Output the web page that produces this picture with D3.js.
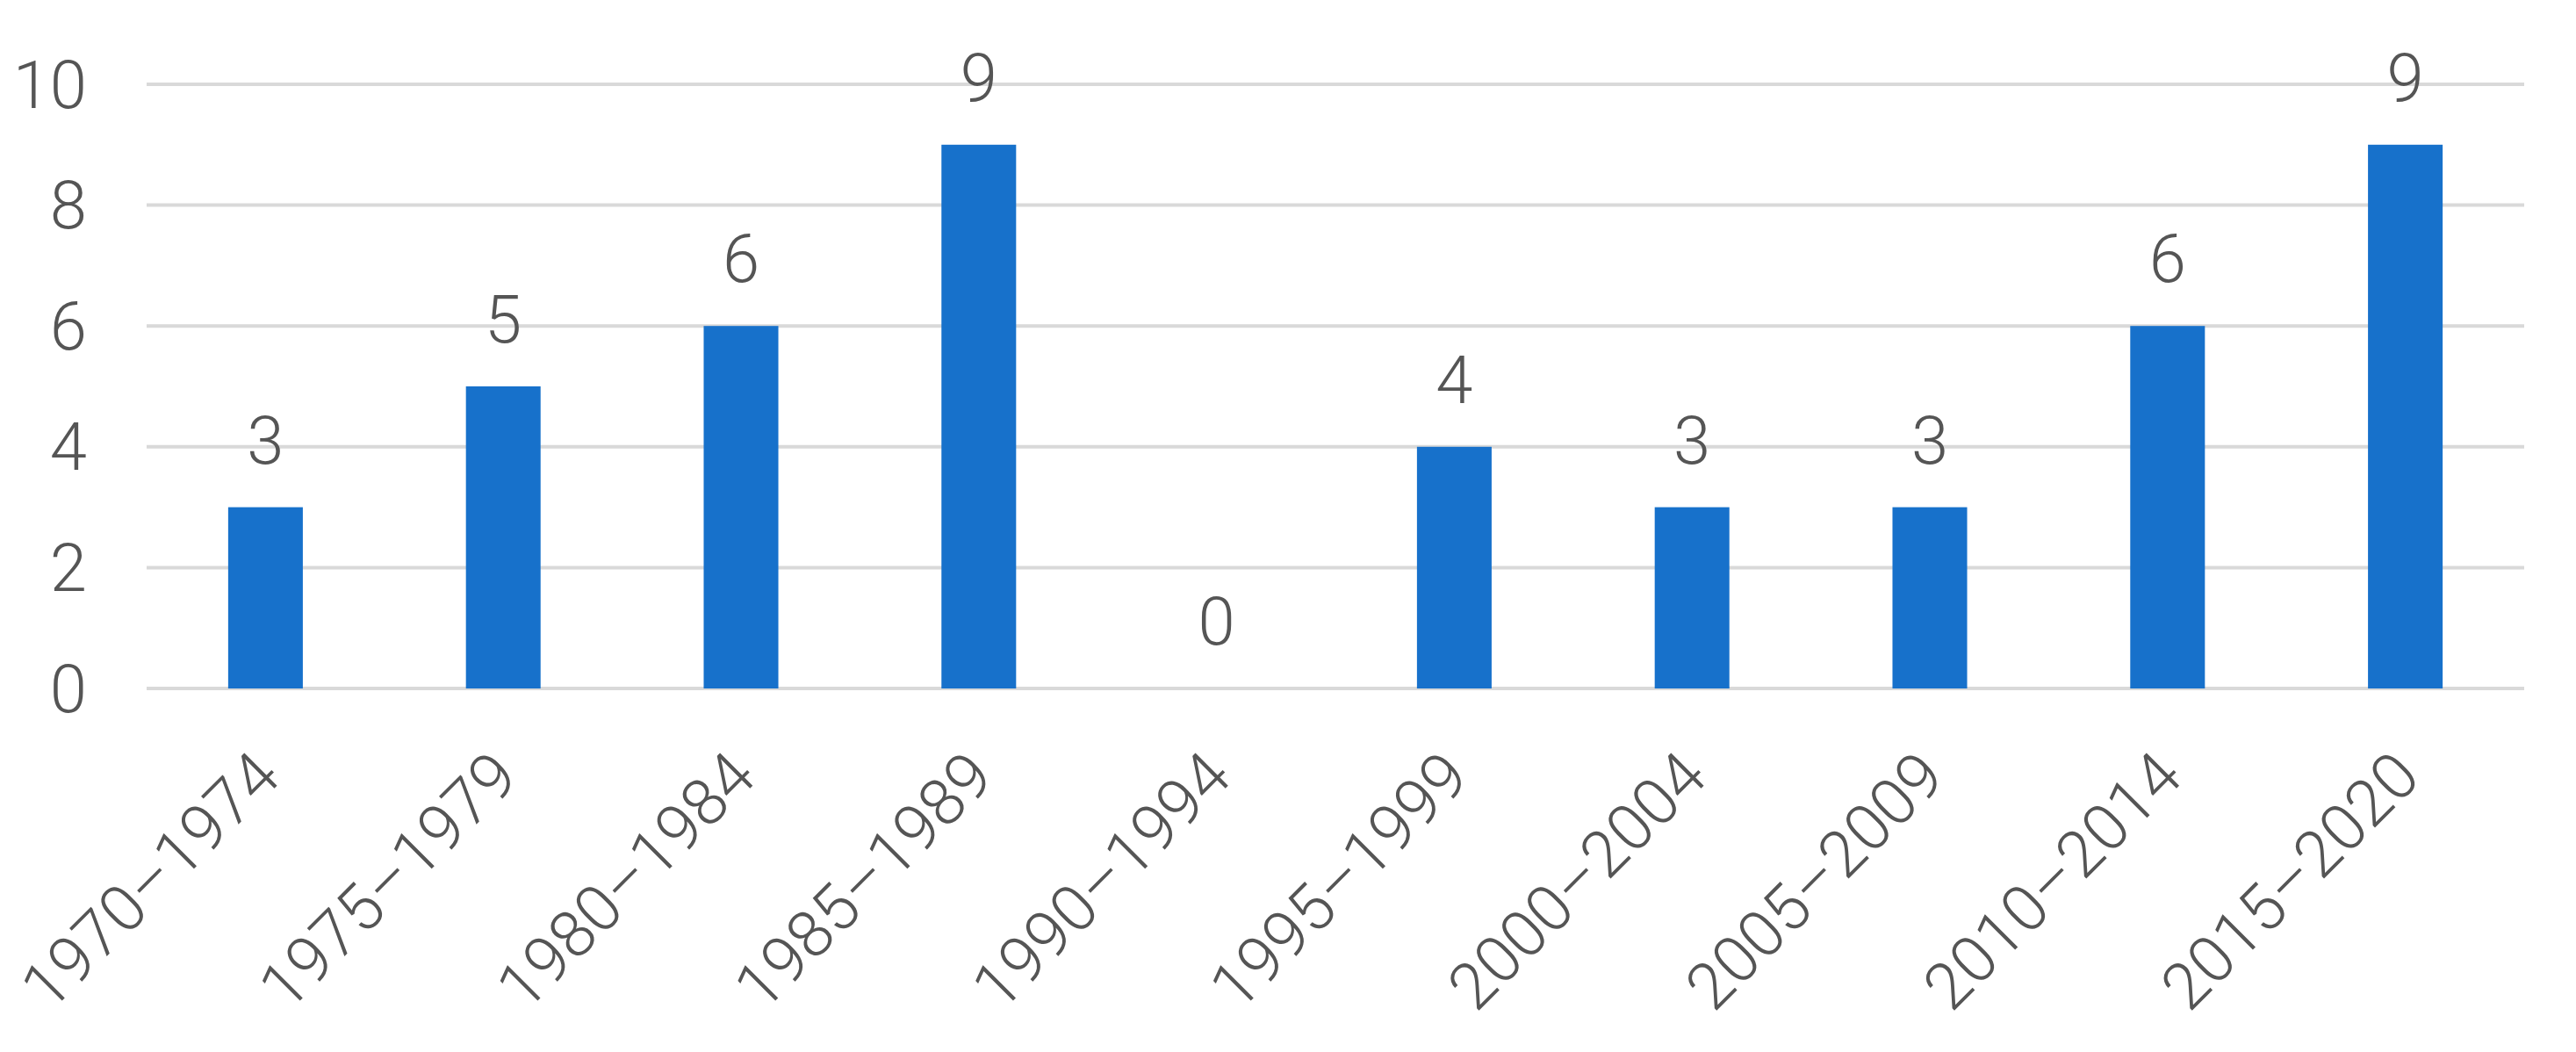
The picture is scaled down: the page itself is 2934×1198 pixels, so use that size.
<!DOCTYPE html>
<html>
<head>
<meta charset="utf-8">
<script src="https://cdn.jsdelivr.net/npm/d3@7"></script>
<style>
  html, body { margin: 0; padding: 0; background: #fff; }
  svg text { font-family: "Helvetica Neue", Roboto, "Liberation Sans", sans-serif; font-weight: 300; fill: #555; }
</style>
</head>
<body>
<svg width="2934" height="1198"></svg>
<script>
const periods = ['1970–1974', '1975–1979', '1980–1984', '1985–1989', '1990–1994',
  '1995–1999', '2000–2004', '2005–2009', '2010–2014', '2015–2020'];
const counts = [3, 5, 6, 9, 0, 4, 3, 3, 6, 9];
const yTicks = [0, 2, 4, 6, 8, 10];

const svg = d3.select('svg');
const plotLeft = 167, plotRight = 2875, plotTop = 96, plotBottom = 784;

const x = d3.scaleBand().domain(periods).range([plotLeft, plotRight]).paddingInner(0.686).paddingOuter(0.343);
const y = d3.scaleLinear().domain([0, 10]).range([plotBottom, plotTop]);

// gridlines
svg.append('g')
  .selectAll('line')
  .data(yTicks)
  .enter()
  .append('line')
  .attr('x1', plotLeft)
  .attr('x2', plotRight)
  .attr('y1', (d) => y(d))
  .attr('y2', (d) => y(d))
  .style('stroke', '#d9d9d9')
  .style('stroke-width', 4);

// y labels
svg.append('g')
  .selectAll('text')
  .data(yTicks)
  .enter()
  .append('text')
  .attr('x', 99)
  .attr('y', (d) => y(d))
  .attr('dy', '0.35em')
  .attr('text-anchor', 'end')
  .attr('font-size', 76)
  .text((d) => d);

// bars
svg.append('g')
  .selectAll('rect')
  .data(counts)
  .enter()
  .append('rect')
  .attr('x', (d, i) => x(periods[i]))
  .attr('width', x.bandwidth())
  .attr('y', (d) => y(d))
  .attr('height', (d) => plotBottom - y(d))
  .style('fill', '#1771cb');

// value labels
svg.append('g')
  .selectAll('text')
  .data(counts)
  .enter()
  .append('text')
  .attr('x', (d, i) => x(periods[i]) + x.bandwidth() / 2)
  .attr('y', (d) => y(d) - 50)
  .attr('text-anchor', 'middle')
  .attr('font-size', 76)
  .text((d) => d);

// x labels, rotated
svg.append('g')
  .selectAll('text')
  .data(periods)
  .enter()
  .append('text')
  .attr('text-anchor', 'end')
  .attr('font-size', 74)
  .attr('transform', (d) => `translate(${x(d) + x.bandwidth() / 2 + 20},${plotBottom + 104}) rotate(-45)`)
  .text((d) => d);
</script>
</body>
</html>
